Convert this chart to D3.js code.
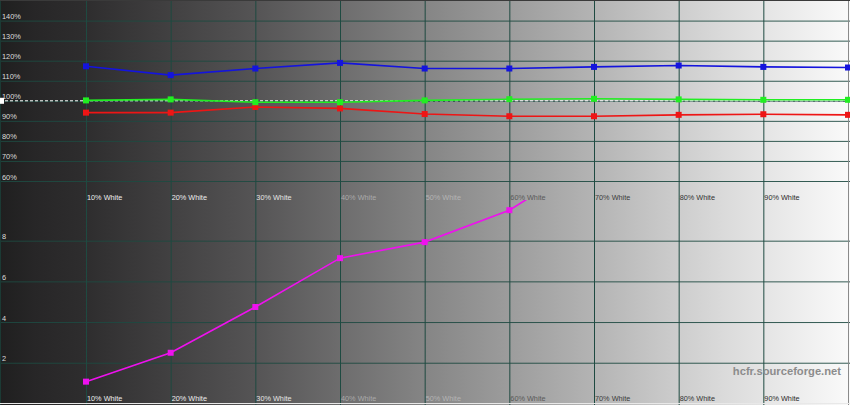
<!DOCTYPE html>
<html><head><meta charset="utf-8">
<script src="https://cdn.jsdelivr.net/npm/d3@7"></script>
<style>html,body{margin:0;padding:0;background:#222;overflow:hidden}svg{display:block}</style>
</head><body>
<svg id="c" width="850" height="405"></svg>
<script>
// ---- data ----
const levels = [10,20,30,40,50,60,70,80,90,100];
const levelLabels = ["10% White","20% White","30% White","40% White","50% White","60% White","70% White","80% White","90% White"];
const labelColors = ["#ececec","#ececec","#e4e4e4","#a9a9a9","#b4b4b4","#5a5a5a","#3c3c3c","#333333","#2a2a2a"];
const blue  = [117.2,112.8,116.1,118.9,116.1,116.1,116.9,117.6,116.9,116.6];
const green = [100.2,100.7, 99.3, 99.3,100.2,100.8,101.0,100.7,100.5,100.5];
const red   = [ 94.1, 94.1, 96.9, 96.2, 93.4, 92.3, 92.3, 93.0, 93.3, 93.0];
const deltaLevels = [10,20,30,40,50,60,70];
const deltaE = [1.07,2.49,4.74,7.14,7.93,9.50,12.1];
const pctTicks = [60,70,80,90,100,110,120,130,140];
const deTicks = [2,4,6,8];
const watermark = "hcfr.sourceforge.net";

const W = 850, H = 405;
const svg = d3.select("#c");
const defs = svg.append("defs");
const grad = defs.append("linearGradient").attr("id","bg").attr("x1","0").attr("x2","1").attr("y1","0").attr("y2","0");
[[0,"#1f1f1f"],[0.04,"#272627"],[0.1,"#2e2d2e"],[0.3,"#555455"],[0.5,"#858585"],[0.7,"#b4b4b4"],[0.85,"#dadada"],[1,"#fafafa"]]
  .forEach(([o,c])=>grad.append("stop").attr("offset",o).attr("stop-color",c));
svg.append("rect").attr("width",W).attr("height",H).attr("fill","url(#bg)");

const x = d3.scaleLinear().domain([10,100]).range([86,848]);
const yTop = d3.scaleLinear().domain([60,140]).range([181,20.6]);
const yBot = d3.scaleLinear().domain([0,10]).range([403.4,200]);
const gridColor = "#1e4a41";

// horizontal gridlines top
const gTop = svg.append("g").call(d3.axisRight(yTop).tickValues(pctTicks).tickSize(W).tickFormat(""));
gTop.select(".domain").remove();
gTop.selectAll(".tick line").attr("stroke",gridColor).attr("stroke-width",1).attr("opacity",0.9);
// horizontal gridlines bottom
const gBot = svg.append("g").call(d3.axisRight(yBot).tickValues(deTicks).tickSize(W).tickFormat(""));
gBot.select(".domain").remove();
gBot.selectAll(".tick line").attr("stroke",gridColor).attr("stroke-width",1).attr("opacity",0.9);

// vertical gridlines
const gV = svg.append("g").call(d3.axisBottom(x).tickValues(levels.slice(0,9)).tickSize(H).tickFormat(""));
gV.select(".domain").remove();
gV.selectAll(".tick line").attr("stroke",gridColor).attr("stroke-width",1);
svg.append("line").attr("x1",x(100)+0.5).attr("x2",x(100)+0.5).attr("y1",0).attr("y2",H).attr("stroke","#8a8a8a");
svg.append("line").attr("x1",0.5).attr("x2",0.5).attr("y1",0).attr("y2",H).attr("stroke","#1b3a34");
svg.append("line").attr("x1",0).attr("x2",W).attr("y1",0.5).attr("y2",0.5).attr("stroke","#3a3a3a");
svg.append("line").attr("x1",0).attr("x2",W).attr("y1",403.5).attr("y2",403.5).attr("stroke","#e8e8e8");

// y labels
const font = "'Liberation Sans', Arial, sans-serif";
svg.append("g").selectAll("text").data(pctTicks).join("text")
  .attr("x",2).attr("y",d=>yTop(d)-1.5).text(d=>d+"%")
  .attr("font-family",font).attr("font-size",7.4).attr("fill","#dcdcdc");
svg.append("g").selectAll("text").data(deTicks).join("text")
  .attr("x",2).attr("y",d=>yBot(d)-1.5).text(d=>d)
  .attr("font-family",font).attr("font-size",7.4).attr("fill","#dcdcdc");

// x labels (two rows)
[199.5, 400.5].forEach(yy=>{
  svg.append("g").selectAll("text").data(levelLabels).join("text")
    .attr("x",(d,i)=>x(levels[i])+1).attr("y",yy).text(d=>d)
    .attr("font-family",font).attr("font-size",7.3).attr("fill",(d,i)=>labelColors[i]);
});

// reference dashed line
svg.append("line").attr("x1",0).attr("x2",W).attr("y1",yTop(100)).attr("y2",yTop(100))
  .attr("stroke","#ffffff").attr("stroke-width",1).attr("stroke-dasharray","3,2");
svg.append("rect").attr("x",0).attr("y",yTop(100)-3).attr("width",4).attr("height",6).attr("fill","#ffffff");

function series(vals, lv, y, color, clip){
  const g = svg.append("g");
  if (clip) g.attr("clip-path","url(#"+clip+")");
  const line = d3.line().x((d,i)=>x(lv[i])).y(d=>y(d));
  g.append("path").datum(vals).attr("d",line).attr("fill","none").attr("stroke",color).attr("stroke-width",1.6);
  g.selectAll("rect").data(vals).join("rect")
    .attr("x",(d,i)=>x(lv[i])-3).attr("y",d=>y(d)-3).attr("width",6).attr("height",6).attr("fill",color);
}
defs.append("clipPath").attr("id","clipBot").append("rect")
  .attr("x",0).attr("y",yBot(10)).attr("width",W).attr("height",yBot(0)-yBot(10));

series(red, levels, yTop, "#ee1515");
series(blue, levels, yTop, "#1414dd");
series(green, levels, yTop, "#22ee22");
series(deltaE, deltaLevels, yBot, "#ee11ee", "clipBot");

svg.append("text").attr("x",841).attr("y",374.5).attr("text-anchor","end")
  .attr("font-family",font).attr("font-weight","bold").attr("font-size",11.2)
  .attr("fill","#8c8c8c").text(watermark);
</script>
</body></html>
